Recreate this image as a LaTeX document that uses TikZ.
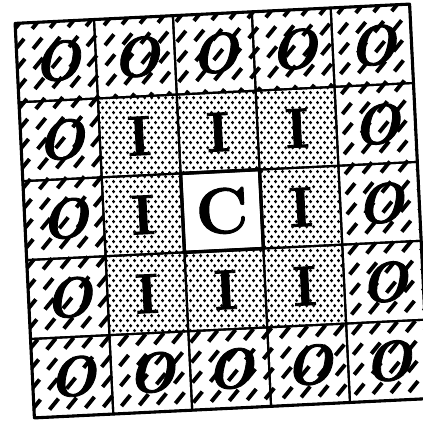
\documentclass[tikz,border=0pt]{standalone}
\usepackage{fontspec}
\newfontfamily\cellfont{Latin Modern Roman}[BoldFeatures={FakeBold=1.5},BoldItalicFeatures={FakeBold=1.5}]
\usetikzlibrary{patterns.meta}
\tikzdeclarepattern{
  name=celldots,
  bounding box={(0pt,0pt) and (5pt,7pt)},
  tile size={(5pt,7pt)},
  code={
    \fill (1.25pt,1.75pt) circle (1.3pt);
    \fill (3.75pt,5.25pt) circle (1.3pt);
  }
}
\tikzset{
  cell/.style={draw,rectangle,minimum size=1.975cm,inner sep=0pt,outer sep=0pt,line width=1.5pt},
  ocell/.style={cell,font=\cellfont\fontsize{40}{40}\selectfont\bfseries\itshape},
  icell/.style={cell,pattern=celldots,font=\cellfont\fontsize{40}{40}\selectfont\bfseries},
  ccell/.style={cell,fill=white,line width=2.4pt,font=\cellfont\fontsize{46}{46}\selectfont\bfseries},
  hatch/.style={line width=2.8pt,dash pattern=on 10pt off 9.2pt},
  border/.style={line width=2.2pt,line join=round}
}
\begin{document}
\begin{tikzpicture}[x=0.025cm,y=0.025cm]
  \useasboundingbox (0,0) rectangle (423,421);
  \begin{scope}[shift={(222,210)},rotate=2.8,transform shape]
    % 5x5 cells: outer ring O, inner ring I, centre C
    \foreach \i in {0,...,4}{
      \foreach \j in {0,...,4}{
        \pgfmathtruncatemacro\ring{max(abs(\i-2),abs(\j-2))}
        \ifcase\ring
          \node[ccell] (c\i\j) at (\i*79-158,158-\j*79) {C};
        \or
          \node[icell] (c\i\j) at (\i*79-158,158-\j*79) {I};
        \or
          \node[ocell] (c\i\j) at (\i*79-158,158-\j*79) {O};
        \fi
      }
    }
    % hatching over the outer ring
    \begin{scope}[even odd rule]
      \clip (c00.north west) -- (c40.north east) -- (c44.south east) -- (c04.south west) -- cycle
        (c11.north west) -- (c31.north east) -- (c33.south east) -- (c13.south west) -- cycle;
      \foreach \c in {-560,-542,...,220}
        \draw[hatch] (\c,-210) -- ++(48:600);
    \end{scope}
    \draw[border] (c00.north west) -- (c40.north east) -- (c44.south east) -- (c04.south west) -- cycle;
    \draw[border] (c22.north west) -- (c22.north east) -- (c22.south east) -- (c22.south west) -- cycle;
  \end{scope}
\end{tikzpicture}
\end{document}
